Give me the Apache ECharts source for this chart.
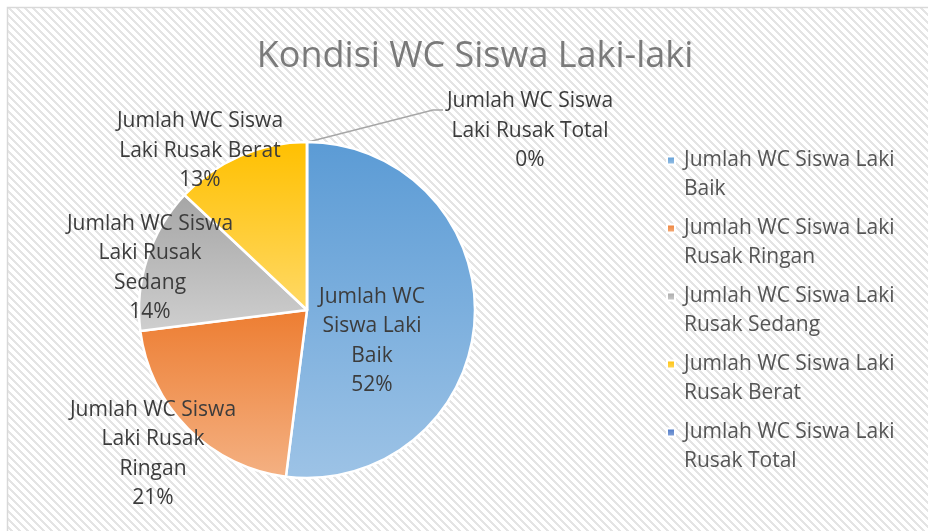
<!DOCTYPE html>
<html>
<head>
<meta charset="utf-8">
<script src="https://cdn.jsdelivr.net/npm/echarts@6/dist/echarts.min.js"></script>
<style>
html,body{margin:0;padding:0;background:#fff;}
#chart{width:928px;height:531px;}
</style>
</head>
<body>
<div id="chart"></div>
<script>
// ---- data ----
const chartTitle = 'Kondisi WC Siswa Laki-laki';
const categories = [
  'Jumlah WC Siswa Laki Baik',
  'Jumlah WC Siswa Laki Rusak Ringan',
  'Jumlah WC Siswa Laki Rusak Sedang',
  'Jumlah WC Siswa Laki Rusak Berat',
  'Jumlah WC Siswa Laki Rusak Total'
];
const values = [52, 21, 14, 13, 0];
const pieLabelLines = [
  ['Jumlah WC', 'Siswa Laki', 'Baik'],
  ['Jumlah WC Siswa', 'Laki Rusak', 'Ringan'],
  ['Jumlah WC Siswa', 'Laki Rusak', 'Sedang'],
  ['Jumlah WC Siswa', 'Laki Rusak Berat'],
  ['Jumlah WC Siswa', 'Laki Rusak Total']
];
const legendLines = [
  ['Jumlah WC Siswa Laki', 'Baik'],
  ['Jumlah WC Siswa Laki', 'Rusak Ringan'],
  ['Jumlah WC Siswa Laki', 'Rusak Sedang'],
  ['Jumlah WC Siswa Laki', 'Rusak Berat'],
  ['Jumlah WC Siswa Laki', 'Rusak Total']
];

// ---- styles ----
const gradStops = [
  ['#5B9BD5', '#9DC3E6'],
  ['#ED7D31', '#F4B183'],
  ['#A5A5A5', '#CFCFCF'],
  ['#FFC000', '#FFD966'],
  ['#4472C4', '#8FAADC']
];
const labelAnchors = [[372, 341], [153, 454], [150, 268], [200, 151], [530, 131]];
const PIE_CENTER = [307, 310];
const PIE_RADIUS = 168;
const FONT = 'Open Sans';

function hatch() {
  const c = document.createElement('canvas');
  c.width = 8; c.height = 8;
  const ctx = c.getContext('2d');
  ctx.fillStyle = '#ffffff';
  ctx.fillRect(0, 0, 8, 8);
  ctx.fillStyle = '#e4e4e4';
  for (let y = 0; y < 8; y++) {
    for (let x = 0; x < 8; x++) {
      if (((x - y) % 8 + 8) % 8 < 3) ctx.fillRect(x, y, 1, 1);
    }
  }
  return c;
}

const chart = echarts.init(document.getElementById('chart'), null, {renderer: 'canvas'});

const data = categories.map((name, i) => ({
  name: name,
  value: values[i],
  itemStyle: {
    color: {
      type: 'linear', x: 0, y: 0, x2: 0, y2: 1,
      colorStops: [{offset: 0, color: gradStops[i][0]}, {offset: 1, color: gradStops[i][1]}]
    }
  },
  label: {
    formatter: function (p) {
      return pieLabelLines[i].concat([Math.round(p.percent) + '%']).join('\n');
    }
  },
  labelLine: {show: i === 4}
}));

chart.setOption({
  animation: false,
  graphic: [{
    type: 'rect', z: -10, silent: true,
    shape: {x: 7.5, y: 7.5, width: 940, height: 540},
    style: {fill: {image: hatch(), repeat: 'repeat'}, stroke: '#d9d9d9', lineWidth: 1.5}
  }],
  title: {
    text: chartTitle,
    left: 470, top: 34, textAlign: 'center',
    textStyle: {fontFamily: FONT, fontSize: 36, fontWeight: 'normal', color: '#7a7a7a'}
  },
  legend: {
    orient: 'vertical',
    left: 661, top: 112,
    itemWidth: 12, itemHeight: 8,
    itemGap: -19,
    icon: 'path://M0,0h8v8h-8z M12,0h0.001v0.001h-0.001z',
    formatter: function (name) {
      return '\n' + legendLines[categories.indexOf(name)].join('\n');
    },
    textStyle: {
      fontFamily: FONT, fontSize: 21, color: '#555555',
      lineHeight: 29
    }
  },
  series: [{
    type: 'pie',
    center: PIE_CENTER,
    radius: PIE_RADIUS,
    startAngle: 90,
    clockwise: true,
    itemStyle: {borderColor: '#ffffff', borderWidth: 2.5},
    label: {
      show: true,
      fontFamily: FONT, fontSize: 21, color: '#3c3c3c',
      lineHeight: 29.5, align: 'center', overflow: 'none', width: 300
    },
    labelLine: {lineStyle: {color: '#a6a6a6', width: 1.3}, length: 20, length2: 10},
    labelLayout: function (p) {
      const a = labelAnchors[p.dataIndex];
      const out = {x: a[0], y: a[1], align: 'center', verticalAlign: 'middle'};
      if (p.dataIndex === 4) {
        const top = [PIE_CENTER[0] + 1, PIE_CENTER[1] - PIE_RADIUS];
        out.labelLinePoints = [top, [433, 110], [443, 110]];
      }
      return out;
    },
    data: data
  }]
});
</script>
</body>
</html>
